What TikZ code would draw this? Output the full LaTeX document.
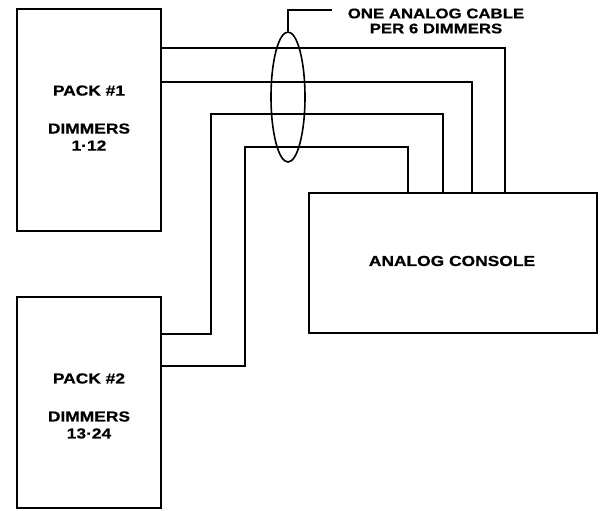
\documentclass[tikz,border=0pt]{standalone}
\usepackage{fontspec}
\setmainfont{Liberation Sans}[FakeStretch=1.2, BoldFeatures={FakeBold=0.6}]
\usetikzlibrary{shapes.geometric}
\tikzset{
  unit/.style={draw, line width=1.8pt, inner sep=0pt},
  txt/.style={align=center, inner sep=0pt, font=\fontsize{14.5}{17}\selectfont\bfseries},
  wire/.style={line width=1.1pt},
  lbl/.style={align=center, inner sep=0pt, font=\fontsize{14}{15}\selectfont\bfseries}
}
\begin{document}
\begin{tikzpicture}[x=1pt,y=-1pt]
\useasboundingbox (0,0) rectangle (605,511);
\node[unit, minimum width=144pt, minimum height=222pt] (pack1) at (89,120) {};
\node[unit, minimum width=144pt, minimum height=211pt] (pack2) at (89,402.5) {};
\node[unit, minimum width=288pt, minimum height=140pt] (console) at (453,263) {};
\node[txt] (t1) at (89,118) {PACK \#1\\[21pt]DIMMERS\\1·12};
\node[txt] (t2) at (89,406) {PACK \#2\\[21pt]DIMMERS\\13·24};
\node[txt] (t3) at (452,261) {ANALOG CONSOLE};
% wires
\draw[wire] (pack1.east |- 0,48) -| (console.north -| 505,0);
\draw[wire] (pack1.east |- 0,82) -| (console.north -| 472,0);
\draw[wire] (pack2.east |- 0,334) -| (211,114) -| (console.north -| 443,0);
\draw[wire] (pack2.east |- 0,366) -| (245,147) -| (console.north -| 408,0);
% cable bundle
\node[ellipse, draw, line width=1.6pt, minimum width=34pt, minimum height=130pt, inner sep=0pt] (cable) at (288,97) {};
\coordinate (leadend) at (332,10);
\draw[wire] (cable.north) |- (leadend);
\node[lbl] (note) at (436,21) {ONE ANALOG CABLE\\PER 6 DIMMERS};
\end{tikzpicture}
\end{document}
